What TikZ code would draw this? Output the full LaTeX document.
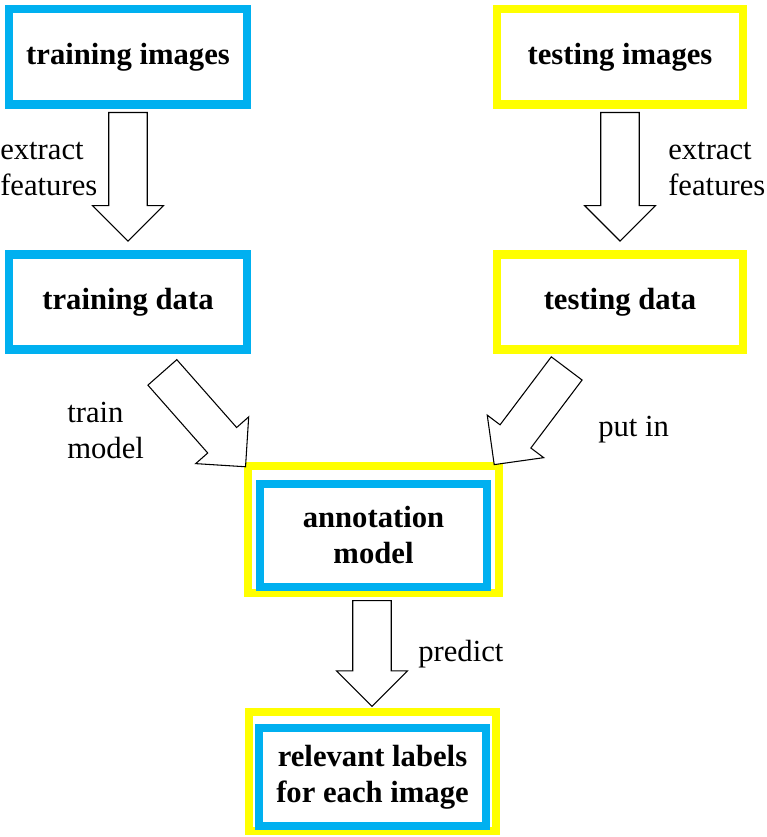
\documentclass[tikz,border=0pt]{standalone}
\usepackage{fontspec}
\setmainfont{Liberation Serif}
\usetikzlibrary{shapes.arrows}
\definecolor{boxcyan}{RGB}{0,176,240}
\definecolor{boxyellow}{RGB}{255,255,0}
\begin{document}
\begin{tikzpicture}[x=0.75pt,y=0.75pt,
  box/.style={draw=#1,line width=6bp,align=center,font=\fontsize{23}{27}\selectfont\bfseries},
  big/.style={single arrow,draw,thick,fill=white,inner sep=14bp,single arrow head extend=12bp,minimum height=#1,anchor=tail},
  lbl/.style={align=left,font=\fontsize{23}{27}\selectfont,inner sep=0pt}]
\useasboundingbox (0,0) rectangle (766,-837);
% input boxes
\node[box=boxcyan,minimum width=178bp,minimum height=71bp] (trimg) at (128,-57) {training images};
\node[box=boxyellow,minimum width=184bp,minimum height=71bp] (teimg) at (620,-57) {testing images};
\node[box=boxcyan,minimum width=178bp,minimum height=71bp] (trdat) at (128,-302) {training data};
\node[box=boxyellow,minimum width=184bp,minimum height=71bp] (tedat) at (620,-302) {testing data};
% model and output
\node[draw=boxyellow,line width=6bp,minimum width=188bp,minimum height=95bp] (modout) at (373.5,-529.5) {};
\node[box=boxcyan,minimum width=170bp,minimum height=77bp] (model) at (373.5,-535.5) {annotation\\model};
\node[draw=boxyellow,line width=6bp,minimum width=185bp,minimum height=89bp] (relout) at (372.5,-771.5) {};
\node[box=boxcyan,minimum width=169bp,minimum height=73bp] (rel) at (372.5,-777) {relevant labels\\for each image};
% block arrows
\node[big=96bp,rotate=-90] (a1) at (128,-112) {};
\node[big=96bp,rotate=-90] (a2) at (620,-112) {};
\node[big=94bp,rotate=-48.6] (a3) at (162,-372) {};
\node[big=90bp,rotate=233] (a4) at (567,-368) {};
\node[big=79bp,rotate=-90] (a5) at (372,-600) {};
% labels
\node[lbl,anchor=north west] (l1) at (0,-142) {extract\\features};
\node[lbl,anchor=north west] (l2) at (668,-142) {extract\\features};
\node[lbl,anchor=north west] (l3) at (67,-402) {train\\model};
\node[lbl,anchor=north west] (l4) at (598,-416) {put in};
\node[lbl,anchor=north west] (l5) at (418,-640) {predict};
\end{tikzpicture}
\end{document}
